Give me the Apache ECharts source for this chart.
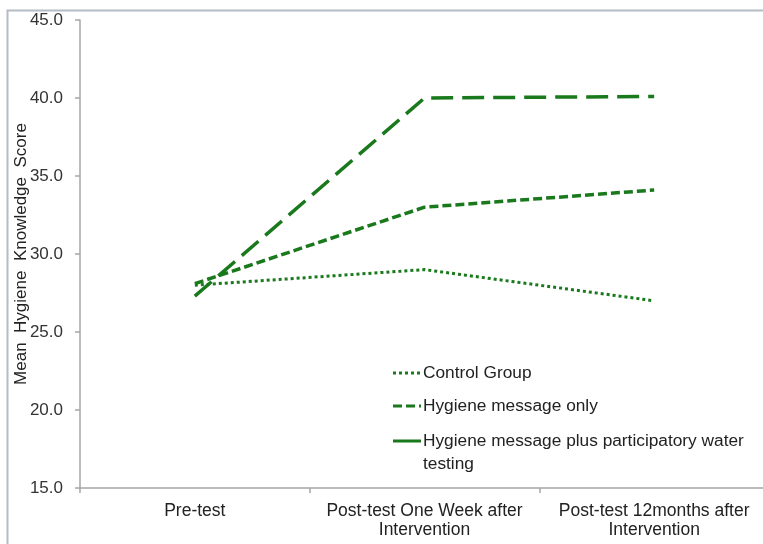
<!DOCTYPE html>
<html>
<head>
<meta charset="utf-8">
<script src="https://cdn.jsdelivr.net/npm/echarts@6/dist/echarts.min.js"></script>
<style>html,body{margin:0;padding:0;background:#fff}#c{width:763px;height:544px}</style>
</head>
<body>
<div id="c"></div>
<script>
var categories = ['Pre-test', 'Post-test One Week after\nIntervention', 'Post-test 12months after\nIntervention'];
var seriesNames = ['Control Group', 'Hygiene message only', 'Hygiene message plus participatory water testing'];
var controlGroup = [28.0, 29.0, 27.0];
var hygieneOnly = [28.1, 33.0, 34.1];
var hygienePlusTesting = [27.3, 40.0, 40.1];
var yTicks = [15, 20, 25, 30, 35, 40, 45];

var green = '#19791c';
var chart = echarts.init(document.getElementById('c'), null, {renderer: 'canvas'});
var font = 'Liberation Sans, Arial, sans-serif';

var legendStyles = [[3, 3], [9, 4], null];
var legendY = [373, 406, 441];
var legendGraphics = [];
seriesNames.forEach(function (n, i) {
  var ls = {stroke: green, lineWidth: 3};
  if (legendStyles[i]) ls.lineDash = legendStyles[i];
  legendGraphics.push({type: 'line', shape: {x1: 393, y1: legendY[i], x2: 421, y2: legendY[i]}, style: ls, silent: true});
  var txt = i === 2 ? 'Hygiene message plus participatory water\ntesting' : n;
  legendGraphics.push({type: 'text', x: 423, y: legendY[i] - 11, style: {text: txt, fill: '#222', font: '17.3px ' + font, lineHeight: 23, textVerticalAlign: 'top'}, silent: true});
});

chart.setOption({
  animation: false,
  backgroundColor: '#fff',
  grid: {left: 80, top: 20, bottom: 56, right: -6, containLabel: false, outerBoundsMode: 'none'},
  xAxis: {
    type: 'category',
    data: categories,
    boundaryGap: true,
    axisLine: {lineStyle: {color: '#a6a6a6', width: 1.5}},
    axisTick: {show: true, length: 5, alignWithLabel: false, interval: 0, lineStyle: {color: '#a6a6a6', width: 1.5}},
    axisLabel: {color: '#222', fontSize: 17.5, fontFamily: font, lineHeight: 19, margin: 14, interval: 0}
  },
  yAxis: {
    type: 'value',
    min: 15, max: 45, interval: 5,
    name: 'Mean  Hygiene  Knowledge  Score',
    nameLocation: 'middle',
    nameGap: 50,
    nameMoveOverlap: false,
    nameTextStyle: {color: '#222', fontSize: 17, fontFamily: font},
    axisLine: {show: true, lineStyle: {color: '#a6a6a6', width: 1.5}},
    axisTick: {show: true, length: 5, lineStyle: {color: '#a6a6a6', width: 1.5}},
    splitLine: {show: false},
    axisLabel: {color: '#333', fontSize: 17, fontFamily: font, margin: 17, formatter: function (v) { return yTicks.indexOf(v) >= 0 ? v.toFixed(1) : ''; }}
  },
  series: [
    {name: seriesNames[0], type: 'line', data: controlGroup, symbol: 'none', lineStyle: {color: green, width: 3, type: [3, 3]}},
    {name: seriesNames[1], type: 'line', data: hygieneOnly, symbol: 'none', lineStyle: {color: green, width: 3.5, type: [9, 4]}},
    {name: seriesNames[2], type: 'line', data: hygienePlusTesting, symbol: 'none', lineStyle: {color: green, width: 3.5, type: [22, 9]}}
  ],
  graphic: [
    {type: 'rect', shape: {x: 7.5, y: 10.5, width: 800, height: 600}, style: {fill: 'none', stroke: '#b4bcc4', lineWidth: 2}, silent: true, z: -1}
  ].concat(legendGraphics)
});
</script>
</body>
</html>
